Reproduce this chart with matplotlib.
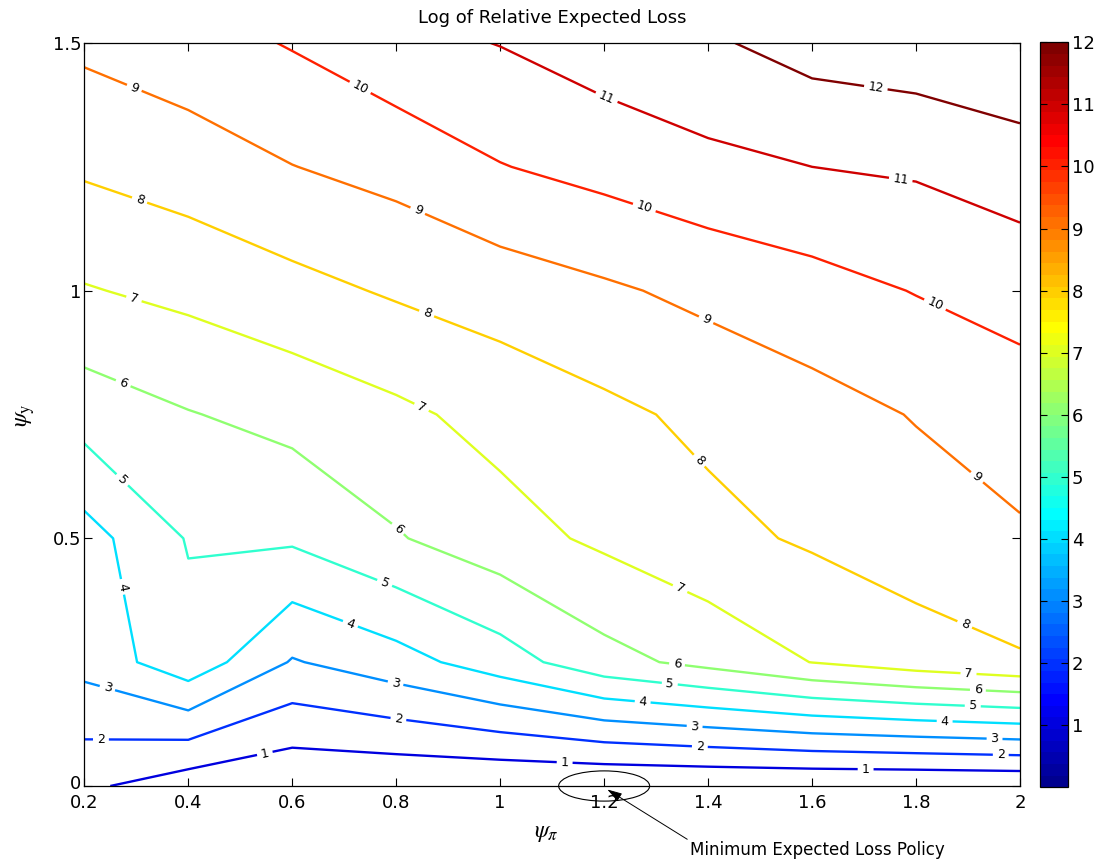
import numpy as np
import matplotlib
matplotlib.use("Agg")
import matplotlib.pyplot as plt
from matplotlib.colors import Normalize, ListedColormap
from matplotlib.patches import Ellipse
from matplotlib.transforms import ScaledTranslation
from matplotlib import cm

plt.rcParams["font.family"] = ["DejaVu Sans"]
plt.rcParams["mathtext.fontset"] = "stix"

# policy grid: inflation response (columns) x output response (rows)
psi_pi = [0.2, 0.4, 0.6, 0.8, 1.0, 1.2, 1.4, 1.6, 1.8, 2.0]
psi_y = [0.0, 0.25, 0.5, 0.75, 1.0, 1.25, 1.5]

# log of relative expected loss, one row per psi_y value
loss_y000 = [1.19, 0.43, 0.14, 0.10, 0.05, 0.00, 0.02, 0.02, 0.01, 0.05]
loss_y025 = [3.34, 4.64, 2.92, 3.60, 4.53, 5.66, 6.30, 7.02, 7.52, 7.90]
loss_y050 = [3.59, 5.07, 5.15, 5.92, 6.61, 7.19, 7.73, 8.13, 8.53, 8.80]
loss_y075 = [5.43, 5.95, 6.32, 6.79, 7.33, 7.78, 8.22, 8.63, 9.05, 9.78]
loss_y100 = [6.93, 7.26, 7.69, 8.12, 8.47, 8.85, 9.25, 9.62, 10.04, 10.17]
loss_y125 = [8.14, 8.50, 8.98, 9.34, 9.96, 10.33, 10.74, 11.00, 11.13, 11.68]
loss_y150 = [9.21, 9.59, 10.07, 10.70, 11.03, 11.51, 11.86, 12.40, 12.60, 12.59]
log_loss = [loss_y000, loss_y025, loss_y050, loss_y075,
            loss_y100, loss_y125, loss_y150]

levels = list(range(1, 13))
cbar_ticks = list(range(1, 13))

# the minimising rule on the grid
best_policy = (1.2, 0.0)

# where the inline level labels sit
label_spots = [
    (0.547, 0.067), (1.124, 0.046), (1.703, 0.032),
    (0.232, 0.093), (0.804, 0.133), (1.384, 0.077), (1.963, 0.063),
    (0.244, 0.196), (0.798, 0.204), (1.374, 0.119), (1.951, 0.093),
    (0.273, 0.402), (0.711, 0.325), (1.274, 0.168), (1.855, 0.129),
    (0.271, 0.616), (0.777, 0.408), (1.326, 0.204), (1.909, 0.159),
    (0.276, 0.816), (0.805, 0.521), (1.340, 0.244), (1.919, 0.194),
    (0.296, 0.985), (0.848, 0.763), (1.345, 0.396), (1.901, 0.228),
    (0.307, 1.185), (0.859, 0.955), (1.384, 0.658), (1.894, 0.327),
    (0.296, 1.409), (0.838, 1.153), (1.396, 0.941), (1.913, 0.618),
    (0.730, 1.409), (1.277, 1.167), (1.836, 0.971),
    (1.205, 1.391), (1.769, 1.213),
    (1.722, 1.405),
]


def classic_jet(m=64):
    """64-step jet as the old MATLAB default builds it."""
    n = int(np.ceil(m / 4))
    u = np.concatenate([np.arange(1, n + 1) / n, np.ones(n - 1),
                        np.arange(n, 0, -1) / n])
    g = int(np.ceil(n / 2)) - (m % 4 == 1) + np.arange(1, len(u) + 1)
    r, b = g + n, g - n
    J = np.zeros((m, 3))
    J[g[g <= m] - 1, 1] = u[g <= m]
    J[r[r <= m] - 1, 0] = u[r <= m]
    J[b[b >= 1] - 1, 2] = u[b >= 1]
    return ListedColormap(J, name="classic_jet")


W, H = 1101, 864
jet = classic_jet(64)

fig = plt.figure(figsize=(W / 100, H / 100), dpi=100)
ax = fig.add_axes([84.3 / W, 1 - 786 / H, (1020 - 84.3) / W, (786 - 43) / H])

cs = ax.contour(psi_pi, psi_y, log_loss, levels=levels, cmap=jet,
                vmin=0, vmax=12, linewidths=1.7)
ax.clabel(cs, fmt="%d", fontsize=9, colors="k", inline=True,
          inline_spacing=4, manual=label_spots)

ax.set_xlim(0.2, 2.0)
ax.set_ylim(0, 1.5)
ax.set_xticks(np.arange(0.2, 2.01, 0.2))
ax.set_yticks([0, 0.5, 1, 1.5])
ax.xaxis.set_major_formatter(matplotlib.ticker.FormatStrFormatter("%g"))
ax.yaxis.set_major_formatter(matplotlib.ticker.FormatStrFormatter("%g"))
ax.tick_params(direction="in", top=True, right=True, length=6, width=0.8,
               labelsize=13, pad=2)
ax.tick_params(axis="x", pad=6)
for s in ax.spines.values():
    s.set_linewidth(0.9)

# lift the "0" on the y axis a touch so it clears the first x label
fig.canvas.draw()
zero_lbl = ax.get_yticklabels()[0]
zero_lbl.set_transform(zero_lbl.get_transform()
                       + ScaledTranslation(0, 3 / 72, fig.dpi_scale_trans))

# circle round the optimum with a pointer to the note
ax.add_patch(Ellipse(best_policy, 0.175, 0.061, fill=False, lw=0.8,
                     ec="k", clip_on=False))
ax.annotate("Minimum Expected Loss Policy",
            xy=(best_policy[0] + 0.006, best_policy[1] - 0.007),
            xytext=(690, 14), textcoords="figure pixels",
            ha="left", va="center", fontsize=12, annotation_clip=False,
            arrowprops=dict(arrowstyle="-|>,head_length=0.75,head_width=0.22",
                            color="k", lw=0.7, shrinkA=0, shrinkB=0,
                            relpos=(0, 1)))

fig.text(552 / W, 1 - 18 / H, "Log of Relative Expected Loss",
         ha="center", va="center", fontsize=13)
fig.text(546 / W, 1 - 832 / H, r"$\psi_\pi$", ha="center", va="center",
         fontsize=17)
fig.text(25 / W, 1 - 415 / H, r"$\psi_\mathrm{y}$", ha="center",
         va="center", fontsize=17, rotation=90)

cax = fig.add_axes([1040 / W, 1 - 787.3 / H, 27.7 / W, (787.3 - 42.3) / H])
sm = cm.ScalarMappable(norm=Normalize(0, 12), cmap=jet)
cb = fig.colorbar(sm, cax=cax, ticks=cbar_ticks)
cb.ax.tick_params(direction="in", left=True, right=True, length=5,
                  width=0.8, labelsize=13, pad=3)
cb.outline.set_linewidth(0.9)

fig.savefig("out.png", dpi=100)
